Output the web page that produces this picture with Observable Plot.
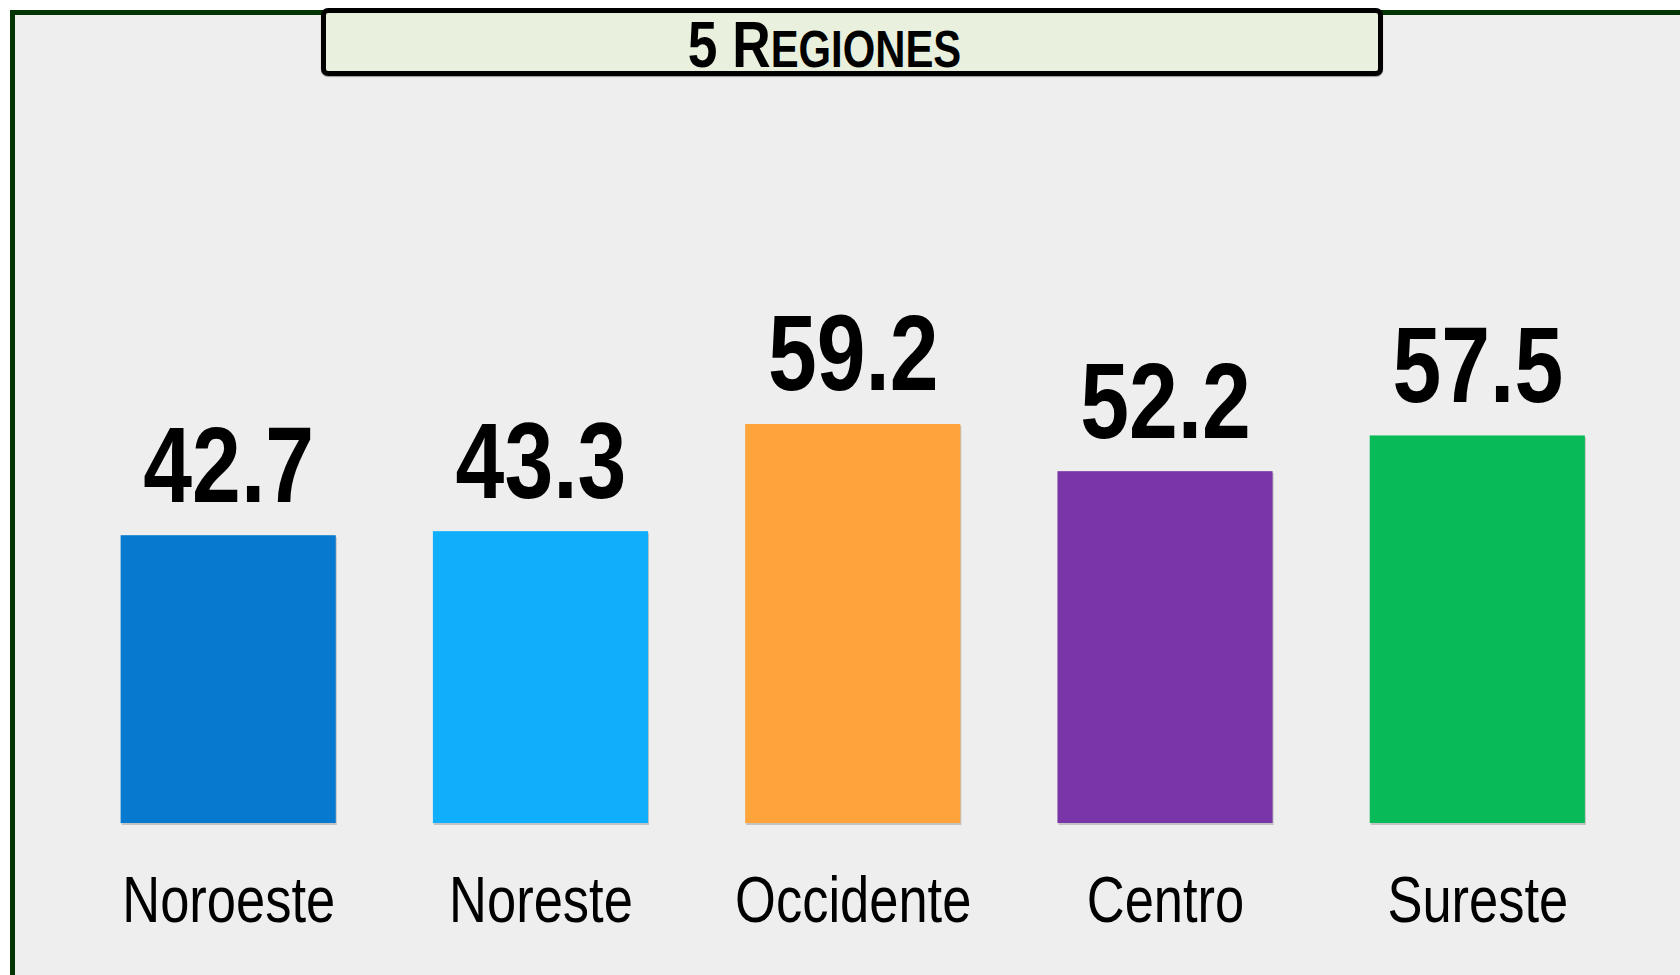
<!DOCTYPE html>
<html>
<head>
<meta charset="utf-8">
<script src="https://cdn.jsdelivr.net/npm/d3@7"></script>
<script src="https://cdn.jsdelivr.net/npm/@observablehq/plot@0.6"></script>
<style>
  html, body { margin: 0; padding: 0; background: #ffffff; overflow: hidden; }
  #wrap { position: relative; width: 1680px; height: 975px; }
  #frame { position: absolute; left: 10px; top: 10px; width: 1700px; height: 1000px;
           box-sizing: border-box; border-left: 5px solid #023302; border-top: 5px solid #023302;
           background: #eeeeee; }
  #chart { position: absolute; left: 0; top: 0; }
  #titlebox { position: absolute; left: 321px; top: 8px; width: 1062px; height: 68px; box-sizing: border-box;
              border: 5px solid #000; border-radius: 7px; background: #e9f1de;
              box-shadow: 0 1px 1px rgba(0,0,0,0.35); }
  #title { position: absolute; left: 0; top: 0; }
</style>
</head>
<body>
<div id="wrap">
  <div id="frame"></div>
  <div id="chart"></div>
  <div id="titlebox"></div>
  <svg id="title" width="1680" height="90"></svg>
</div>
<script>
const titleLead = "5 R";
const titleRest = "egiones";
const regions = ["Noroeste", "Noreste", "Occidente", "Centro", "Sureste"];
const values = [42.7, 43.3, 59.2, 52.2, 57.5];
const colors = ["#0779ce", "#10affc", "#ffa33b", "#7a36a8", "#08bb58"];

const font = "'Liberation Sans', Arial, Helvetica, sans-serif";
const squeeze = 0.82; // emulate a narrow typeface
const data = regions.map((r, i) => ({region: r, value: values[i]}));

const chart = Plot.plot({
  width: 1680,
  height: 975,
  marginLeft: 23.5,
  marginRight: -2,
  marginTop: 149,
  marginBottom: 152,
  style: {background: "transparent", color: "#000", fontFamily: font, overflow: "visible"},
  x: {domain: regions, padding: 0.311, round: false},
  y: {domain: [0, 100], axis: null},
  color: {domain: regions, range: colors},
  marks: [
    Plot.barY(data, {x: "region", y: "value", fill: "#000", fillOpacity: 0.18, dx: 1, dy: 2}),
    Plot.barY(data, {x: "region", y: "value", fill: "region"}),
    Plot.text(data, {x: "region", y: "value", text: d => d.value.toFixed(1), lineAnchor: "bottom",
      dy: -34, fontSize: 107, fontWeight: "bold", fontFamily: font, fill: "#000"}),
    Plot.axisX({tickSize: 0, tickPadding: 53, fontSize: 64, fontFamily: font, fill: "#000", label: null})
  ]
});
d3.select(chart).selectAll("text").each(function() {
  const tr = this.getAttribute("transform") || "";
  this.setAttribute("transform", (tr + ` scale(${squeeze},1)`).trim());
});
document.getElementById("chart").appendChild(chart);

// Title (small caps rendered as two sizes)
const t = d3.select("#title").append("text")
  .attr("transform", `translate(824.5,67) scale(${squeeze},1)`)
  .attr("text-anchor", "middle")
  .attr("font-family", font)
  .attr("font-weight", "bold")
  .attr("fill", "#000");
t.append("tspan").attr("font-size", 65).text(titleLead);
t.append("tspan").attr("font-size", 51).style("text-transform", "uppercase").text(titleRest.toUpperCase());
</script>
</body>
</html>
